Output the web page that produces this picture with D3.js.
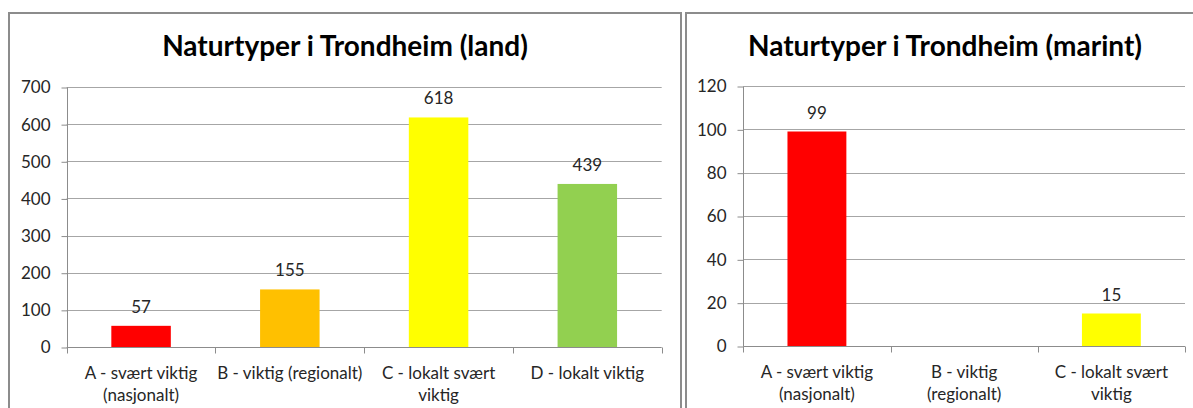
<!DOCTYPE html>
<html>
<head>
<meta charset="utf-8">
<script src="https://d3js.org/d3.v7.min.js"></script>
<style>
  body { margin: 0; background: #fff; }
  svg { display: block; }
  .title { font-family: Lato, "Open Sans", sans-serif; font-weight: bold; font-size: 28px; fill: #000; text-anchor: middle; }
  .tick text, .lab, .val { font-family: Lato, "Open Sans", sans-serif; font-size: 17px; fill: #262626; }
  .grid line { stroke: #a6a6a6; stroke-width: 1; }
  .frame { fill: #fff; stroke: #8c8c8c; stroke-width: 2; }
</style>
</head>
<body>
<svg id="chart" width="1193" height="408"></svg>
<script>

// land chart
var landCats = ["A", "B", "C", "D"];
var landValues = [57, 155, 618, 439];
var landLabels = [["A - svært viktig", "(nasjonalt)"], ["B - viktig (regionalt)"], ["C - lokalt svært", "viktig"], ["D - lokalt viktig"]];
var landTicks = [0, 100, 200, 300, 400, 500, 600, 700];

// marine chart
var marCats = ["A", "B", "C"];
var marValues = [99, null, 15];
var marLabels = [["A - svært viktig", "(nasjonalt)"], ["B - viktig", "(regionalt)"], ["C - lokalt svært", "viktig"]];
var marTicks = [0, 20, 40, 60, 80, 100, 120];

var barColors = ["#FF0000", "#FFC000", "#FFFF00", "#92D050"];

var svg = d3.select("#chart");

function drawChart(opt) {
  var g = svg.append("g");

  g.append("rect").attr("class", "frame")
    .attr("x", opt.frame[0]).attr("y", opt.frame[1])
    .attr("width", opt.frame[2]).attr("height", opt.frame[3]);

  g.append("text").attr("class", "title")
    .attr("x", opt.titleX).attr("y", 56)
    .text(opt.title);

  var x = d3.scaleBand().domain(opt.cats).range([opt.left, opt.right]);
  var y = d3.scaleLinear().domain([0, opt.max]).range([opt.bottom, opt.top]);

  // gridlines
  g.append("g").attr("class", "grid")
    .selectAll("line")
    .data(opt.ticks.filter(function(t){ return t > 0; }))
    .enter().append("line")
      .attr("x1", opt.left).attr("x2", opt.right)
      .attr("y1", function(d){ return Math.round(y(d)) + 0.5; })
      .attr("y2", function(d){ return Math.round(y(d)) + 0.5; });

  // y axis
  var yAxis = g.append("g")
    .attr("transform", "translate(" + (Math.round(opt.left) + 0.5) + ",0.5)")
    .call(d3.axisLeft(y).tickValues(opt.ticks).tickSize(6).tickPadding(11));
  yAxis.selectAll("path, line").attr("stroke", "#8c8c8c");
  yAxis.select(".domain").attr("d", "M0," + Math.round(opt.top) + "V" + Math.round(opt.bottom));

  // bars
  var bw = x.bandwidth() / 2.5;
  g.selectAll(".bar")
    .data(opt.values)
    .enter().append("rect")
      .attr("class", "bar")
      .attr("x", function(d, i){ return x(opt.cats[i]) + (x.bandwidth() - bw) / 2; })
      .attr("y", function(d){ return y(d || 0); })
      .attr("width", bw)
      .attr("height", function(d){ return opt.bottom - y(d || 0); })
      .attr("fill", function(d, i){ return barColors[i]; });

  // value labels
  g.selectAll(".val")
    .data(opt.values)
    .enter().append("text")
      .attr("class", "val")
      .attr("text-anchor", "middle")
      .attr("x", function(d, i){ return x(opt.cats[i]) + x.bandwidth() / 2; })
      .attr("y", function(d){ return y(d || 0) - 13; })
      .text(function(d){ return d == null ? "" : d; });

  // x axis
  var xAxis = g.append("g")
    .attr("transform", "translate(0," + (Math.round(opt.bottom) + 0.5) + ")");
  xAxis.append("line")
    .attr("x1", opt.left).attr("x2", opt.right)
    .attr("stroke", "#8c8c8c");
  xAxis.selectAll(".xt")
    .data(d3.range(opt.cats.length + 1))
    .enter().append("line")
      .attr("class", "xt")
      .attr("x1", function(i){ return Math.round(opt.left + i * x.step()) + 0.5; })
      .attr("x2", function(i){ return Math.round(opt.left + i * x.step()) + 0.5; })
      .attr("y1", 0).attr("y2", 6)
      .attr("stroke", "#8c8c8c");

  var labs = xAxis.selectAll(".lab")
    .data(opt.labels)
    .enter().append("text")
      .attr("class", "lab")
      .attr("text-anchor", "middle")
      .attr("x", function(d, i){ return x(opt.cats[i]) + x.bandwidth() / 2; })
      .attr("y", 31);
  labs.selectAll("tspan")
    .data(function(d){ return d; })
    .enter().append("tspan")
      .attr("x", function(){ return d3.select(this.parentNode).attr("x"); })
      .attr("dy", function(d, i){ return i == 0 ? 0 : 22; })
      .text(function(d){ return d; });
}

drawChart({
  title: "Naturtyper i Trondheim (land)",
  frame: [9, 13, 672, 410],
  titleX: 345,
  cats: landCats, values: landValues, labels: landLabels, ticks: landTicks,
  max: 700, left: 66.7, right: 661.7, top: 87, bottom: 347
});

drawChart({
  title: "Naturtyper i Trondheim (marint)",
  frame: [686, 13, 530, 410],
  titleX: 945,
  cats: marCats, values: marValues, labels: marLabels, ticks: marTicks,
  max: 120, left: 743.3, right: 1185, top: 86, bottom: 346
});

</script>
</body>
</html>
